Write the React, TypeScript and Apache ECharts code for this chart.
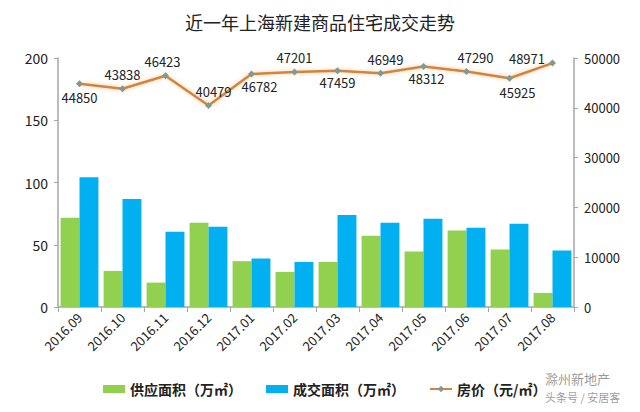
import React, { useEffect, useRef } from "react";
import * as echarts from "echarts";

const categories = ["2016.09", "2016.10", "2016.11", "2016.12", "2017.01", "2017.02", "2017.03", "2017.04", "2017.05", "2017.06", "2017.07", "2017.08"];
const supplyArea = [71.7, 29, 19.6, 67.7, 36.8, 28.2, 36.2, 57.2, 44.6, 61.5, 46.2, 11.3];
const dealArea = [104.2, 86.7, 60.4, 64.4, 38.9, 36.2, 73.8, 67.7, 70.9, 63.6, 66.9, 45.4];
const price = [44850, 43838, 46423, 40479, 46782, 47201, 47459, 46949, 48312, 47290, 45925, 48971];

const seriesNames = ["供应面积（万㎡）", "成交面积（万㎡）", "房价（元/㎡）"];
const title = "近一年上海新建商品住宅成交走势";

// label placement for each price point (styling only)
const labelPlacement: any[] = [
  { position: "bottom", offset: [0, 0] },
  { position: "top", offset: [0, 0] },
  { position: "top", offset: [-3, 0] },
  { position: "top", offset: [5, 0] },
  { position: "bottom", offset: [8, -2] },
  { position: "top", offset: [0, 0] },
  { position: "bottom", offset: [0, -2] },
  { position: "top", offset: [5, 0] },
  { position: "bottom", offset: [3, -2] },
  { position: "top", offset: [9, 0] },
  { position: "bottom", offset: [8, 0] },
  { position: "left", offset: [0, -5] },
];

export default function App() {
  const ref = useRef<HTMLDivElement>(null);
  useEffect(() => {
    if (!ref.current) return;
    const chart = echarts.init(ref.current, null, { renderer: "svg" });
    const font = "'Noto Sans CJK SC', 'Noto Sans', sans-serif";
    const axisGray = "#A6A6A6";
    chart.setOption({
      animation: false,
      backgroundColor: "#ffffff",
      textStyle: { fontFamily: font },
      title: {
        text: title,
        left: "center",
        top: 8,
        textStyle: { fontSize: 18, fontWeight: "normal", color: "#222", fontFamily: font },
      },
      grid: { left: 58, right: 66, top: 58, bottom: 105, containLabel: false },
      legend: {
        left: 98,
        top: 377,
        itemGap: 24,
        itemWidth: 22,
        itemHeight: 8,
        textStyle: { fontSize: 14, fontWeight: "bold", color: "#222", fontFamily: font },
        data: [
          { name: seriesNames[0], icon: "rect" },
          { name: seriesNames[1], icon: "rect" },
          { name: seriesNames[2] },
        ],
      },
      xAxis: {
        type: "category",
        data: categories,
        boundaryGap: true,
        axisLine: { lineStyle: { color: axisGray, width: 1.5 } },
        axisTick: { show: true, alignWithLabel: false, length: 5, lineStyle: { color: axisGray } },
        axisLabel: { rotate: 45, fontSize: 13, color: "#222", margin: 8, interval: 0 },
      },
      yAxis: [
        {
          type: "value",
          min: 0,
          max: 200,
          interval: 50,
          splitLine: { show: false },
          axisLine: { show: true, lineStyle: { color: axisGray, width: 1.5 } },
          axisTick: { show: true, length: 4, lineStyle: { color: axisGray } },
          axisLabel: { fontSize: 14, color: "#222", margin: 10 },
        },
        {
          type: "value",
          min: 0,
          max: 50000,
          interval: 10000,
          position: "right",
          splitLine: { show: false },
          axisLine: { show: true, lineStyle: { color: axisGray, width: 1.5 } },
          axisTick: { show: true, length: 4, lineStyle: { color: axisGray } },
          axisLabel: { fontSize: 13, color: "#222", margin: 10, formatter: (v: number) => String(v) },
        },
      ],
      series: [
        {
          name: seriesNames[0],
          type: "bar",
          yAxisIndex: 0,
          data: supplyArea,
          barGap: "0%",
          barCategoryGap: "12%",
          itemStyle: { color: "#92D050" },
        },
        {
          name: seriesNames[1],
          type: "bar",
          yAxisIndex: 0,
          data: dealArea,
          barGap: "0%",
          barCategoryGap: "12%",
          itemStyle: { color: "#00B0F0" },
        },
        {
          name: seriesNames[2],
          type: "line",
          yAxisIndex: 1,
          data: price.map((v, i) => ({
            value: v,
            label: { position: labelPlacement[i].position, offset: labelPlacement[i].offset },
          })),
          symbol: "diamond",
          symbolSize: 7,
          lineStyle: {
            color: "#D4843C",
            width: 2.5,
            shadowColor: "rgba(240,170,100,0.6)",
            shadowBlur: 4,
          },
          itemStyle: { color: "#7E9A92" },
          label: { show: true, fontSize: 13, color: "#222", distance: 4 },
          z: 5,
        },
      ],
      graphic: [
        {
          type: "text",
          left: 545,
          top: 372,
          style: { text: "滁州新地产", fontSize: 13, fill: "rgba(120,120,120,0.75)", fontFamily: font },
        },
        {
          type: "text",
          left: 545,
          top: 391,
          style: { text: "头条号 / 安居客", fontSize: 11, fill: "rgba(120,120,120,0.75)", fontFamily: font },
        },
      ],
    });
    return () => chart.dispose();
  }, []);
  return <div ref={ref} style={{ width: 640, height: 412, position: "absolute", left: 0, top: 0 }} />;
}
